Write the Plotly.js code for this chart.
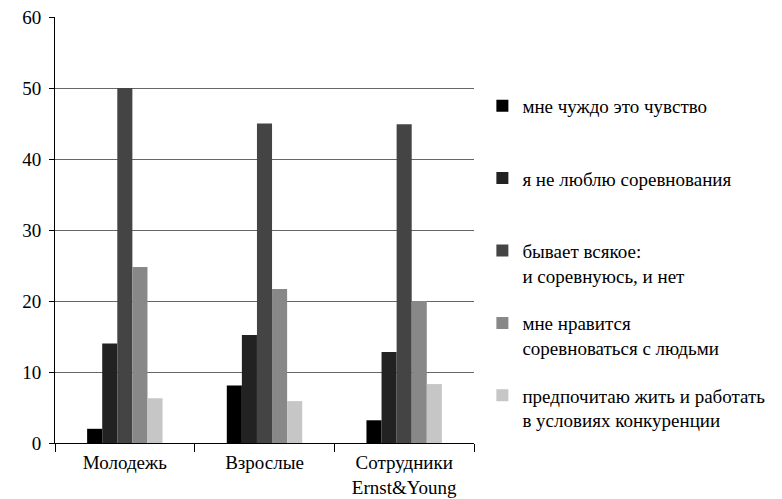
<!DOCTYPE html>
<html>
<head>
<meta charset="utf-8">
<script src="https://cdn.plot.ly/plotly-3.0.1.min.js"></script>
<style>html,body{margin:0;padding:0;background:#fff}#chart{width:782px;height:499px}</style>
</head>
<body>
<div id="chart"></div>
<script>
const categories = ["Молодежь", "Взрослые", "Сотрудники<br>Ernst&Young"];
const seriesNames = [
  "мне чуждо это чувство<br>\u00a0",
  "я не люблю соревнования<br>\u00a0",
  "бывает всякое:<br>и соревнуюсь, и нет",
  "мне нравится<br>соревноваться с людьми",
  "предпочитаю жить и работать<br>в условиях конкуренции"
];
const alien = [2.0, 8.1, 3.2];
const dislike = [14.0, 15.2, 12.8];
const mixed = [50.0, 45.0, 44.9];
const like = [24.8, 21.7, 20.0];
const prefer = [6.3, 5.9, 8.3];
const seriesValues = [alien, dislike, mixed, like, prefer];
const colors = ["#000000", "#222222", "#444444", "#888888", "#c6c6c6"];

const FONT = "Liberation Serif";

const traces = seriesValues.map((vals, i) => ({
  type: "bar",
  x: categories,
  y: vals,
  name: seriesNames[i],
  legendgroup: "g" + i,
  marker: {color: colors[i], line: {width: 0}},
  hoverinfo: "y"
}));

const layout = {
  width: 782, height: 499,
  margin: {l: 55, r: 301, t: 17, b: 56},
  paper_bgcolor: "#ffffff",
  plot_bgcolor: "#ffffff",
  font: {family: FONT, size: 19, color: "#000000"},
  barmode: "group",
  bargap: 0.46,
  bargroupgap: 0,
  showlegend: true,
  legend: {
    x: 1.02, xanchor: "left",
    y: 0.836, yanchor: "top",
    valign: "top",
    tracegroupgap: 20,
    font: {family: FONT, size: 19},
    bgcolor: "rgba(0,0,0,0)"
  },
  xaxis: {
    type: "category",
    showline: true, linecolor: "#000", linewidth: 1,
    ticks: "outside", tickson: "boundaries", ticklen: 8, tickcolor: "#000",
    ticklabelstandoff: 2,
    showgrid: false,
    tickfont: {family: FONT, size: 19}
  },
  yaxis: {
    range: [0, 60], dtick: 10,
    showline: true, linecolor: "#000", linewidth: 1,
    ticks: "outside", ticklen: 5, tickcolor: "#000",
    ticklabelstandoff: 4,
    showgrid: true, gridcolor: "#666666", gridwidth: 1,
    zeroline: false,
    tickfont: {family: FONT, size: 19}
  }
};

Plotly.newPlot("chart", traces, layout, {displayModeBar: false, staticPlot: true});
</script>
</body>
</html>
